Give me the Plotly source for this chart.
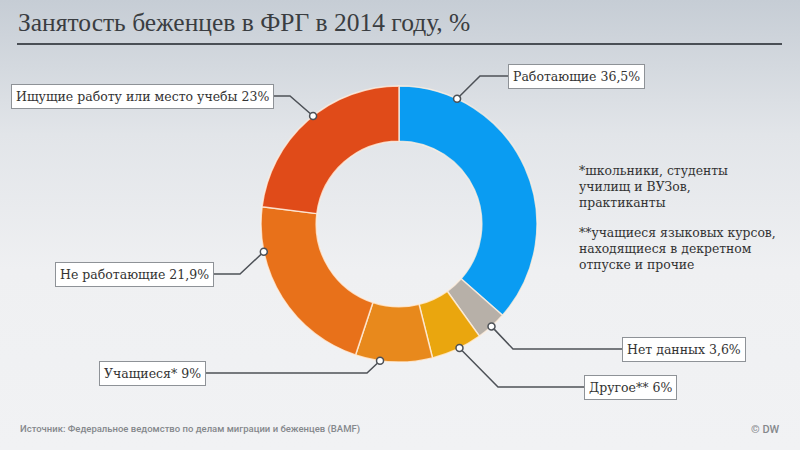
import math
import plotly.graph_objects as go

# data
labels = ["Работающие", "Нет данных", "Другое**", "Учащиеся*", "Не работающие",
          "Ищущие работу или место учебы"]
values = [36.5, 3.6, 6, 9, 21.9, 23]
value_text = ["36,5%", "3,6%", "6%", "9%", "21,9%", "23%"]
colors = ["#0a9cf2", "#b7b0a8", "#eaa60e", "#e8891c", "#e8711a", "#e04b19"]

note_1 = ["*школьники, студенты", "училищ и ВУЗов,", "практиканты"]
note_2 = ["**учащиеся языковых курсов,", "находящиеся в декретном", "отпуске и прочие"]

title = "Занятость беженцев в ФРГ в 2014 году, %"
source = "Источник: Федеральное ведомство по делам миграции и беженцев (BAMF)"

W, H = 800, 450
cx, cy, r = 399, 224, 138

# leader layout: angle of dot on ring (deg, clockwise from top), knee point, end x, side
leaders = [
    (24.9, (480, 76), 508, "left"),
    (137.9, (513, 349), 622, "left"),
    (154.0, (498, 387), 584, "left"),
    (187.9, (367, 373), 206, "right"),
    (258.4, (240, 274), 214, "right"),
    (321.5, (290, 96), 274, "right"),
]

fig = go.Figure()

# background gradient
fig.add_trace(go.Scatter(
    x=[0, W, W, 0, 0], y=[0, 0, H, H, 0], mode="lines", fill="toself",
    line=dict(width=0), hoverinfo="skip", showlegend=False,
    fillgradient=dict(type="vertical", start=0, stop=H,
                      colorscale=[[0, "#c6cdd5"], [0.3, "#e2e5e9"], [0.6, "#eff0f2"], [1, "#f1f2f4"]]),
))

fig.add_trace(go.Pie(
    labels=labels, values=values, hole=0.6, sort=False, direction="clockwise", rotation=0,
    marker=dict(colors=colors, line=dict(color="rgba(255,240,225,0.8)", width=1.5)),
    textinfo="none", hoverinfo="label+value", showlegend=False,
    domain=dict(x=[(cx - r) / W, (cx + r) / W], y=[(H - cy - r) / H, (H - cy + r) / H]),
))

shapes = []
annotations = []
for i, (ang, knee, ex, side) in enumerate(leaders):
    a = math.radians(ang)
    dx = cx + r * math.sin(a)
    dy = cy - r * math.cos(a)
    shapes.append(dict(type="path", xref="x", yref="y", layer="above",
                       path=f"M{dx},{dy} L{knee[0]},{knee[1]} L{ex},{knee[1]}",
                       line=dict(color="#4d5157", width=1.5)))
    shapes.append(dict(type="circle", xref="x", yref="y", layer="above",
                       x0=dx - 3.5, x1=dx + 3.5, y0=dy - 3.5, y1=dy + 3.5,
                       fillcolor="white", line=dict(color="#4d5157", width=1.5)))
    annotations.append(dict(
        x=ex, y=knee[1], xref="x", yref="y", showarrow=False,
        xanchor=side, yanchor="middle",
        text=labels[i] + " " + value_text[i],
        font=dict(family="DejaVu Serif", size=12.5, color="#333333"),
        bgcolor="white", bordercolor="#8e9297", borderwidth=1, borderpad=4,
    ))

# title underline
shapes.append(dict(type="line", xref="x", yref="y", x0=17, x1=782, y0=44, y1=44,
                   line=dict(color="#4a4f55", width=2)))
# note box
shapes.append(dict(type="rect", xref="x", yref="y", x0=566, x1=782, y0=154, y1=278,
                   fillcolor="#f4f5f6", line=dict(width=0), layer="below"))

annotations.append(dict(x=16, y=22, xref="x", yref="y", xanchor="left", yanchor="middle",
                        showarrow=False, text=title,
                        font=dict(family="Liberation Serif", size=25.5, color="#3a3d41")))
annotations.append(dict(x=577, y=161, xref="x", yref="y", xanchor="left", yanchor="top",
                        showarrow=False, align="left", text="<br>".join(note_1),
                        font=dict(family="DejaVu Serif", size=12.4, color="#333333")))
annotations.append(dict(x=577, y=223, xref="x", yref="y", xanchor="left", yanchor="top",
                        showarrow=False, align="left", text="<br>".join(note_2),
                        font=dict(family="DejaVu Serif", size=12.4, color="#333333")))
annotations.append(dict(x=18, y=429, xref="x", yref="y", xanchor="left", yanchor="middle",
                        showarrow=False, text=source,
                        font=dict(family="Roboto", size=9.5, color="#85888c", weight=500)))
annotations.append(dict(x=782, y=429, xref="x", yref="y", xanchor="right", yanchor="middle",
                        showarrow=False, text="© DW",
                        font=dict(family="Roboto", size=11, color="#85888c", weight=500)))

fig.update_layout(
    width=W, height=H, margin=dict(l=0, r=0, t=0, b=0),
    paper_bgcolor="#eff0f2", plot_bgcolor="rgba(0,0,0,0)",
    xaxis=dict(range=[0, W], visible=False, fixedrange=True, domain=[0, 1]),
    yaxis=dict(range=[H, 0], visible=False, fixedrange=True, domain=[0, 1]),
    shapes=shapes, annotations=annotations, showlegend=False,
)

fig.write_html("out.html", config={"displayModeBar": False},
               post_script="document.body.style.margin='0';")
